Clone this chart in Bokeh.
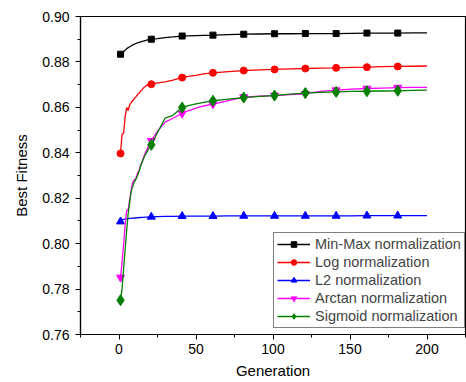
from bokeh.plotting import figure
from bokeh.models import Range1d, FixedTicker, PrintfTickFormatter, Legend, LegendItem
from bokeh.embed import file_html
from bokeh.resources import INLINE

generations = list(range(1, 22)) + [25, 30, 35, 41, 45, 50, 55] + list(range(61, 192, 10)) + [200]
marker_generations = list(range(1, 182, 20))

minmax = [0.8834, 0.8840, 0.8845, 0.8852, 0.8858, 0.8863, 0.8867, 0.8871, 0.8875, 0.8878,
          0.8881, 0.8884, 0.8886, 0.8888, 0.8890, 0.8892, 0.8894, 0.8896, 0.8898, 0.8899, 0.8900,
          0.8903, 0.8907, 0.8910, 0.8914, 0.8915, 0.8916, 0.8917,
          0.8918, 0.8920, 0.8922, 0.8923, 0.8924, 0.8924, 0.8925, 0.8925, 0.8925, 0.8926,
          0.8927, 0.8927, 0.8927, 0.8928, 0.8928]
log_norm = [0.8397, 0.8482, 0.8486, 0.8560, 0.8599, 0.8586, 0.8612, 0.8622, 0.8630, 0.8640,
            0.8646, 0.8656, 0.8662, 0.8672, 0.8678, 0.8686, 0.8692, 0.8697, 0.8700, 0.8701, 0.8702,
            0.8708, 0.8712, 0.8720, 0.8731, 0.8736, 0.8741, 0.8747,
            0.8752, 0.8757, 0.8762, 0.8765, 0.8767, 0.8769, 0.8771, 0.8773, 0.8774, 0.8776,
            0.8777, 0.8779, 0.8780, 0.8781, 0.8782]
l2_norm = [0.8097, 0.8106, 0.8107, 0.8108, 0.8109, 0.8110, 0.8111, 0.8111, 0.8112, 0.8113,
           0.8113, 0.8114, 0.8115, 0.8115, 0.8116, 0.8116, 0.8117, 0.8117, 0.8117, 0.8118, 0.8118,
           0.8119, 0.8120, 0.8120, 0.8121, 0.8121, 0.8121, 0.8121,
           0.8121, 0.8122, 0.8122, 0.8122, 0.8122, 0.8122, 0.8122, 0.8122, 0.8122, 0.8122,
           0.8123, 0.8123, 0.8123, 0.8123, 0.8123]
arctan_norm = [0.7851, 0.7920, 0.7995, 0.8085, 0.8145, 0.8152, 0.8195, 0.8240, 0.8272, 0.8280,
               0.8287, 0.8310, 0.8320, 0.8345, 0.8360, 0.8380, 0.8398, 0.8412, 0.8428, 0.8442, 0.8453,
               0.8495, 0.8535, 0.8552, 0.8573, 0.8585, 0.8597, 0.8606,
               0.8614, 0.8630, 0.8645, 0.8649, 0.8652, 0.8656, 0.8660, 0.8670, 0.8676, 0.8680,
               0.8683, 0.8685, 0.8687, 0.8688, 0.8688]
sigmoid_norm = [0.7751, 0.7800, 0.7890, 0.7975, 0.8060, 0.8135, 0.8185, 0.8233, 0.8255, 0.8272,
                0.8284, 0.8300, 0.8318, 0.8340, 0.8358, 0.8375, 0.8390, 0.8402, 0.8415, 0.8425, 0.8435,
                0.8489, 0.8553, 0.8565, 0.8599, 0.8608, 0.8615, 0.8622,
                0.8629, 0.8636, 0.8643, 0.8648, 0.8652, 0.8658, 0.8663, 0.8666, 0.8668, 0.8670,
                0.8671, 0.8672, 0.8673, 0.8675, 0.8676]

series_names = ["Min-Max normalization", "Log normalization", "L2 normalization",
                "Arctan normalization", "Sigmoid normalization"]
x_ticks = [0, 50, 100, 150, 200]
y_ticks = [0.76, 0.78, 0.80, 0.82, 0.84, 0.86, 0.88, 0.90]

FONT = "Liberation Sans"

p = figure(width=466, height=382, output_backend="svg", toolbar_location=None,
           x_range=Range1d(-25, 225), y_range=Range1d(0.76, 0.90),
           min_border_left=80, min_border_right=1, min_border_top=16, min_border_bottom=48)
p.grid.visible = False
p.outline_line_color = "black"
p.outline_line_width = 1.2
p.background_fill_color = "white"
p.border_fill_color = "white"

styles = [
    ("black", "square", 6),
    ("#FF0000", "circle", 7),
    ("#0000FF", "triangle", 8),
    ("#FF00FF", "inverted_triangle", 8),
    ("#008000", "diamond", 11),
]
data = [minmax, log_norm, l2_norm, arctan_norm, sigmoid_norm]
items = []
for name, vals, (color, marker, size) in zip(series_names, data, styles):
    ln = p.line(generations, vals, line_color=color, line_width=1.3)
    mx = [g for g in generations if g in marker_generations]
    my = [v for g, v in zip(generations, vals) if g in marker_generations]
    sc = p.scatter(mx, my, marker=marker, size=size, fill_color=color, line_color=color)
    items.append(LegendItem(label=name, renderers=[ln, sc]))

legend = Legend(items=items, location=(193, 6), border_line_color="black", border_line_width=1,
                label_text_font=FONT, label_text_font_size="14.5px", label_height=14,
                glyph_height=14, glyph_width=33, spacing=2, padding=3, margin=0,
                label_standoff=5, background_fill_alpha=1.0)
p.add_layout(legend, "center")

for ax in (p.xaxis[0], p.yaxis[0]):
    ax.major_label_text_font = FONT
    ax.major_label_text_font_size = "14px"
    ax.major_label_text_color = "black"
    ax.axis_label_text_font = FONT
    ax.axis_label_text_font_size = "15px"
    ax.axis_label_text_font_style = "normal"
    ax.axis_label_text_color = "black"
    ax.axis_line_color = "black"
    ax.axis_line_width = 1.2
    ax.major_tick_line_color = "black"
    ax.minor_tick_line_color = "black"
    ax.major_tick_out = 5
    ax.major_tick_in = 0
    ax.minor_tick_out = 3
    ax.minor_tick_in = 0

p.xaxis.ticker = FixedTicker(ticks=x_ticks, minor_ticks=[-25, 25, 75, 125, 175, 225])
p.yaxis.ticker = FixedTicker(ticks=y_ticks,
                             minor_ticks=[0.77, 0.79, 0.81, 0.83, 0.85, 0.87, 0.89])
p.yaxis.formatter = PrintfTickFormatter(format="%.2f")
p.xaxis.axis_label = "Generation"
p.yaxis.axis_label = "Best Fitness"
p.xaxis.major_label_standoff = 4
p.yaxis.major_label_standoff = 6
p.xaxis.axis_label_standoff = 5
p.yaxis.axis_label_standoff = 9

open("out.html", "w").write(file_html(p, INLINE))
